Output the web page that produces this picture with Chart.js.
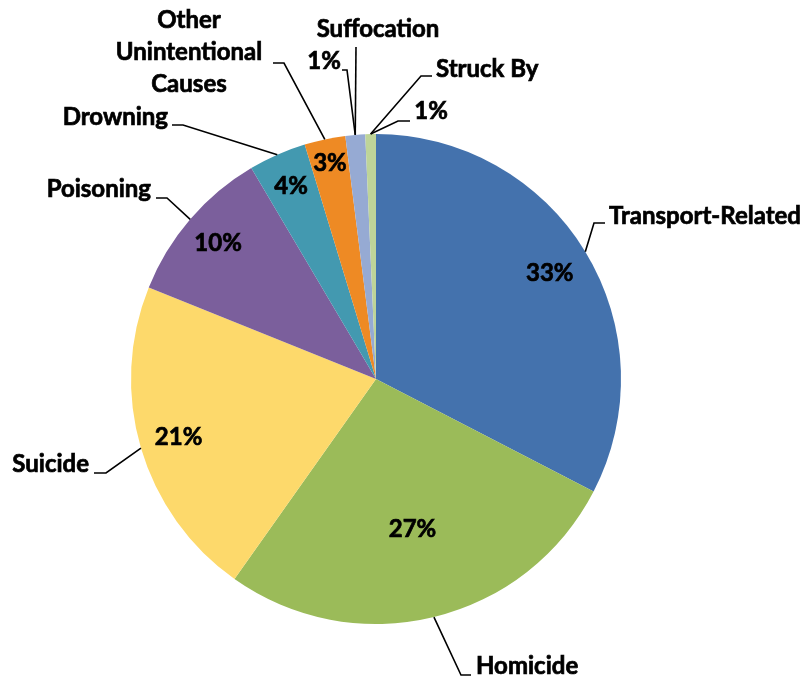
<!DOCTYPE html>
<html>
<head>
<meta charset="utf-8">
<script src="https://cdn.jsdelivr.net/npm/chart.js@4.4.0/dist/chart.umd.min.js"></script>
<style>
    html, body { margin: 0; padding: 0; background: #ffffff; }
    #wrap { width: 809px; height: 676px; position: relative; }
</style>
</head>
<body>
<div id="wrap"><canvas id="pie-chart" width="809" height="676"></canvas></div>
<script>
// Data (percent of deaths)
const categories = ['Transport-Related', 'Homicide', 'Suicide', 'Poisoning', 'Drowning',
    ['Other', 'Unintentional', 'Causes'], 'Suffocation', 'Struck By'];
const shares = [32.6, 27.2, 21.3, 10.4, 3.8, 2.7, 1.3, 0.7];
const sliceColors = ['#4472AD', '#9BBB59', '#FDD96B', '#7B5F9C', '#4399B0', '#EE8A24', '#96AAD3', '#BED499'];

// Label placement (text anchor, elbow of leader line, end of leader line)
const nameLayout = [
    { x: 609, y: 216, align: 'left', elbow: [594, 223], end: [605, 223] },
    { x: 476, y: 666, align: 'left', elbow: [461, 675], end: [471, 675] },
    { x: 89, y: 464, align: 'right', elbow: [106, 473], end: [94, 473] },
    { x: 151, y: 189, align: 'right', elbow: [167, 198], end: [156, 198] },
    { x: 168, y: 117, align: 'right', elbow: [183, 125], end: [172, 125] },
    { x: 189, y: 20, align: 'center', elbow: [284, 63], end: [273, 63] },
    { x: 378, y: 29, align: 'center', elbow: [356, 47], end: [356, 47] },
    { x: 436, y: 69, align: 'left', elbow: [421, 76], end: [432, 76] }
];
// Percent labels: inside slices at a fraction of the radius, or outside with a leader
const pctLayout = [
    { r: 0.83 }, { r: 0.63 }, { r: 0.84 }, { r: 0.85 }, { r: 0.86 }, { r: 0.9 },
    { x: 324, y: 61, align: 'center', elbow: [347, 70], end: [342, 70] },
    { x: 431, y: 111, align: 'center', elbow: [398, 121], end: [410, 121] }
];

const labelFont = 'bold 24px Lato, "Open Sans", sans-serif';
const pctFont = 'bold 24px Lato, "Open Sans", sans-serif';

function formatPct(v) {
    return Math.round(v) + '%';
}

function leader(ctx, from, elbow, end) {
    ctx.beginPath();
    ctx.moveTo(from[0], from[1]);
    ctx.lineTo(elbow[0], elbow[1]);
    ctx.lineTo(end[0], end[1]);
    ctx.stroke();
}

// heavier text, closer to the original's dark bold face
function boldText(ctx, txt, x, y) {
    ctx.lineWidth = 0.7;
    ctx.strokeText(txt, x, y);
    ctx.fillText(txt, x, y);
    ctx.lineWidth = 1.6;
}

const pieLabels = {
    id: 'pieLabels',
    afterDraw(chart) {
        const ctx = chart.ctx;
        const arcs = chart.getDatasetMeta(0).data;
        ctx.save();
        ctx.strokeStyle = '#000000';
        ctx.lineWidth = 1.6;
        ctx.fillStyle = '#000000';
        ctx.textBaseline = 'middle';

        arcs.forEach((arc, i) => {
            const p = arc.getProps(['x', 'y', 'startAngle', 'endAngle', 'outerRadius'], true);
            const mid = (p.startAngle + p.endAngle) / 2;
            const edge = [p.x + Math.cos(mid) * p.outerRadius, p.y + Math.sin(mid) * p.outerRadius];

            // category name with leader line
            const nl = nameLayout[i];
            leader(ctx, edge, nl.elbow, nl.end);
            ctx.font = labelFont;
            ctx.textAlign = nl.align;
            const lines = Array.isArray(categories[i]) ? categories[i] : [categories[i]];
            lines.forEach((t, k) => boldText(ctx, t, nl.x, nl.y + k * 32));

            // percent label
            const pl = pctLayout[i];
            ctx.font = pctFont;
            const txt = formatPct(shares[i]);
            if (pl.r) {
                ctx.textAlign = 'center';
                const rr = p.outerRadius * pl.r;
                boldText(ctx, txt, p.x + Math.cos(mid) * rr, p.y + Math.sin(mid) * rr);
            } else {
                leader(ctx, edge, pl.elbow, pl.end);
                ctx.textAlign = pl.align;
                boldText(ctx, txt, pl.x, pl.y);
            }
        });
        ctx.restore();
    }
};

document.addEventListener('DOMContentLoaded', () => {
    const ctx = document.getElementById('pie-chart').getContext('2d');
    new Chart(ctx, {
        type: 'pie',
        data: {
            labels: categories.map(c => Array.isArray(c) ? c.join(' ') : c),
            datasets: [{
                data: shares,
                backgroundColor: sliceColors,
                borderWidth: 0
            }]
        },
        options: {
            responsive: false,
            animation: false,
            layout: {
                padding: { left: 131, right: 188, top: 134, bottom: 52 }
            },
            plugins: {
                legend: { display: false },
                tooltip: { enabled: false }
            }
        },
        plugins: [pieLabels]
    });
});
</script>
</body>
</html>
